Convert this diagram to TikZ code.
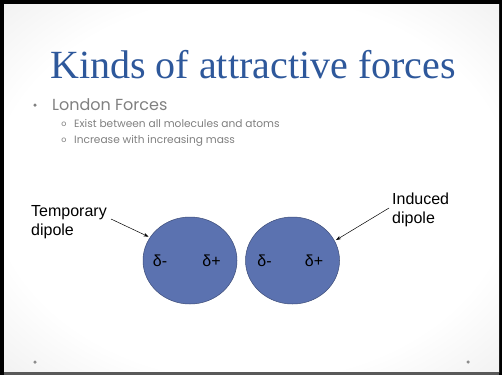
\documentclass[tikz,border=0pt]{standalone}
\usepackage{fontspec}
\setmainfont{Liberation Serif}
\newfontfamily\bodyfont{Poppins}
\newfontfamily\labelfont{Liberation Sans}
\definecolor{titleblue}{RGB}{46,88,155}
\definecolor{bodygray}{RGB}{128,128,128}
\definecolor{molfill}{RGB}{91,114,176}
\definecolor{moledge}{RGB}{60,76,120}
\pgfdeclareradialshading{slidebg}{\pgfpoint{0bp}{0bp}}{color(0bp)=(white); color(26bp)=(white); color(50bp)=(black!13); color(100bp)=(black!15)}
\usetikzlibrary{shapes.geometric,arrows.meta}
\tikzset{
  molecule/.style={ellipse, draw=moledge, line width=0.5pt, fill=molfill, minimum width=94pt, minimum height=87pt, inner sep=0pt},
  charge/.style={font=\labelfont\fontsize{16}{16}\selectfont, text=black, inner sep=0pt},
  lbl/.style={font=\labelfont\fontsize{16}{19}\selectfont, text=black, align=left, inner sep=0pt},
  subtext/.style={text=bodygray, font=\bodyfont\fontsize{10.6}{11}\selectfont, anchor=base west, inner sep=0pt},
  subbullet/.style={text=bodygray, font=\bodyfont\fontsize{8}{8}\selectfont, inner sep=0pt},
  pointer/.style={-{Stealth[length=5pt,width=3.5pt]}, line width=0.5pt, black, shorten >=1.5pt},
  dotmark/.style={circle, fill=black!45, minimum size=3.5pt, inner sep=0pt}
}
\begin{document}
\begin{tikzpicture}[x=1pt,y=-1pt]
\useasboundingbox (0,0) rectangle (502,375);
\fill[black] (0,0) rectangle (502,375);
\shade[shading=slidebg] (4,4) rectangle (499,372);
\fill[black!65] (4,372) rectangle (499,375);
% title
\node[text=titleblue, font=\fontsize{40}{40}\selectfont, anchor=base, inner sep=0pt] (title) at (253,78) {Kinds of attractive forces};
% bullets
\node[circle, fill=bodygray, minimum size=3.5pt, inner sep=0pt] (b1) at (35,105) {};
\node[text=bodygray, font=\bodyfont\fontsize{16}{16}\selectfont, anchor=base west, inner sep=0pt] (t1) at (52,110) {London Forces};
\node[subbullet] (b2) at (64,124) {o};
\node[subtext] (t2) at (74,127.5) {Exist between all molecules and atoms};
\node[subbullet] (b3) at (64,140) {o};
\node[subtext] (t3) at (74,143.5) {Increase with increasing mass};
% molecules
\node[molecule] (m1) at (190,260.5) {};
\node[molecule] (m2) at (292.5,260.5) {};
\node[charge] (c1) at (160,261) {δ-};
\node[charge] (c2) at (211.5,261) {δ+};
\node[charge] (c3) at (264.5,261) {δ-};
\node[charge] (c4) at (314,261) {δ+};
% labels
\node[lbl, anchor=north west] (temp) at (31,205) {Temporary\\dipole};
\node[lbl, anchor=north west] (ind) at (392,193) {Induced\\dipole};
\coordinate (temptail) at (111,219);
\coordinate (indtail) at (389,208);
\draw[pointer] (temptail) -- (m1.150);
\draw[pointer] (indtail) -- (m2.25);
% footer dots
\node[dotmark] (d1) at (35,362) {};
\node[dotmark] (d2) at (468,362) {};
\end{tikzpicture}
\end{document}
